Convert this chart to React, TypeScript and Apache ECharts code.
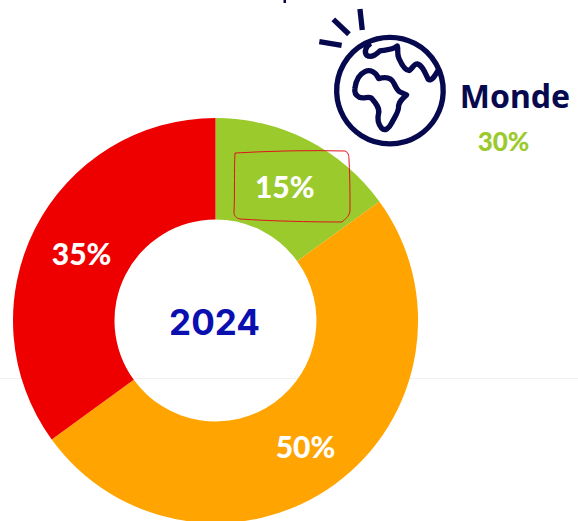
import React, { useEffect, useRef } from "react";
import * as echarts from "echarts";

const categories = ["Monde", "Europe", "France"];
const values = [15, 50, 35];
const colors = ["#9ACA2C", "#FFA400", "#EE0000"];
const labelNudges = [[-1, 3], [-1, 0], [4, 3]];
const centerLabel = "2024";
const iconName = "Monde";
const iconValue = "30%";

const FONT = "Inter";
const NAVY = "#07094F";

const globePath =
  "M270 112 A160 160 0 1 0 270.1 112 Z " +
  "M165 265 C168 240 180 222 195 215 C210 208 228 215 236 236 C250 232 272 228 282 250 C288 262 292 272 300 276 L320 285 C305 298 298 305 296 318 C298 335 285 350 275 370 C268 385 255 395 245 385 C235 372 232 355 236 340 C240 325 228 310 215 295 C205 288 192 298 178 292 C165 285 163 275 165 265 Z " +
  "M212 130 C198 140 192 155 200 166 C212 174 228 165 240 153 C256 150 280 150 292 138 C296 150 290 160 297 175 C306 195 316 212 328 212 C338 205 342 192 352 192 C368 196 376 220 385 238 C394 246 406 228 418 205 " +
  "M58 125 L125 136 M100 58 L147 103 M180 27 L187 90";

const notePath =
  "M235 153 C270 151 310 150 345 151 C348 152 349 155 349 160 C350 180 350 195 350 211 C349 217 345 219 342 222 C310 222 270 221 240 219 C236 218 234 216 234 212 C235 190 234 170 235 153 Z";

echarts.graphic.registerShape("globeIcon", echarts.graphic.extendPath(globePath, {}));
echarts.graphic.registerShape("noteBox", echarts.graphic.extendPath(notePath, {}));

export default function App() {
  const ref = useRef<HTMLDivElement>(null);
  useEffect(() => {
    document.body.style.margin = "0";
    const chart = echarts.init(ref.current!, null, { renderer: "svg" });
    chart.setOption({
      animation: false,
      backgroundColor: "#fff",
      color: colors,
      series: [
        {
          type: "pie",
          center: [215.5, 320.5],
          radius: [101, 202.5],
          startAngle: 90,
          clockwise: true,
          silent: true,
          z: 2,
          labelLine: { show: false },
          label: {
            show: true,
            position: "inside",
            formatter: "{c}%",
            color: "#fff",
            fontFamily: "Lato",
            fontWeight: 900,
            fontSize: 30,
          },
          data: categories.map((name, i) => ({
            name,
            value: values[i],
            label: { offset: labelNudges[i] },
          })),
        },
      ],
      graphic: [
        { type: "line", z: 0, shape: { x1: 0, y1: 378.5, x2: 578, y2: 378.5 }, style: { stroke: "#F1F1F1", lineWidth: 1 } },
        { type: "rect", z: 10, shape: { x: 283.5, y: 0, width: 2.5, height: 3 }, style: { fill: NAVY } },
        { type: "text", z: 10, x: 214.5, y: 322, style: { text: centerLabel, fill: "#0A0FB0", font: `700 35px ${FONT}`, textAlign: "center", textVerticalAlign: "middle" } },
        { type: "text", z: 10, x: 515, y: 95, style: { text: iconName, fill: NAVY, font: `700 32px "Noto Sans"`, textAlign: "center", textVerticalAlign: "middle" } },
        { type: "text", z: 10, x: 503.5, y: 141, style: { text: iconValue, fill: "#9ACA2C", font: `900 26px Lato`, textAlign: "center", textVerticalAlign: "middle" } },
        { type: "globeIcon", z: 10, x: 300, y: 0, scaleX: 1 / 3, scaleY: 1 / 3, style: { fill: "none", stroke: NAVY, lineWidth: 16, lineJoin: "round" } },
        { type: "noteBox", z: 11, style: { fill: "none", stroke: "#E0141E", lineWidth: 1 } },
      ],
    });
    return () => chart.dispose();
  }, []);
  return <div ref={ref} style={{ width: 578, height: 521 }} />;
}
